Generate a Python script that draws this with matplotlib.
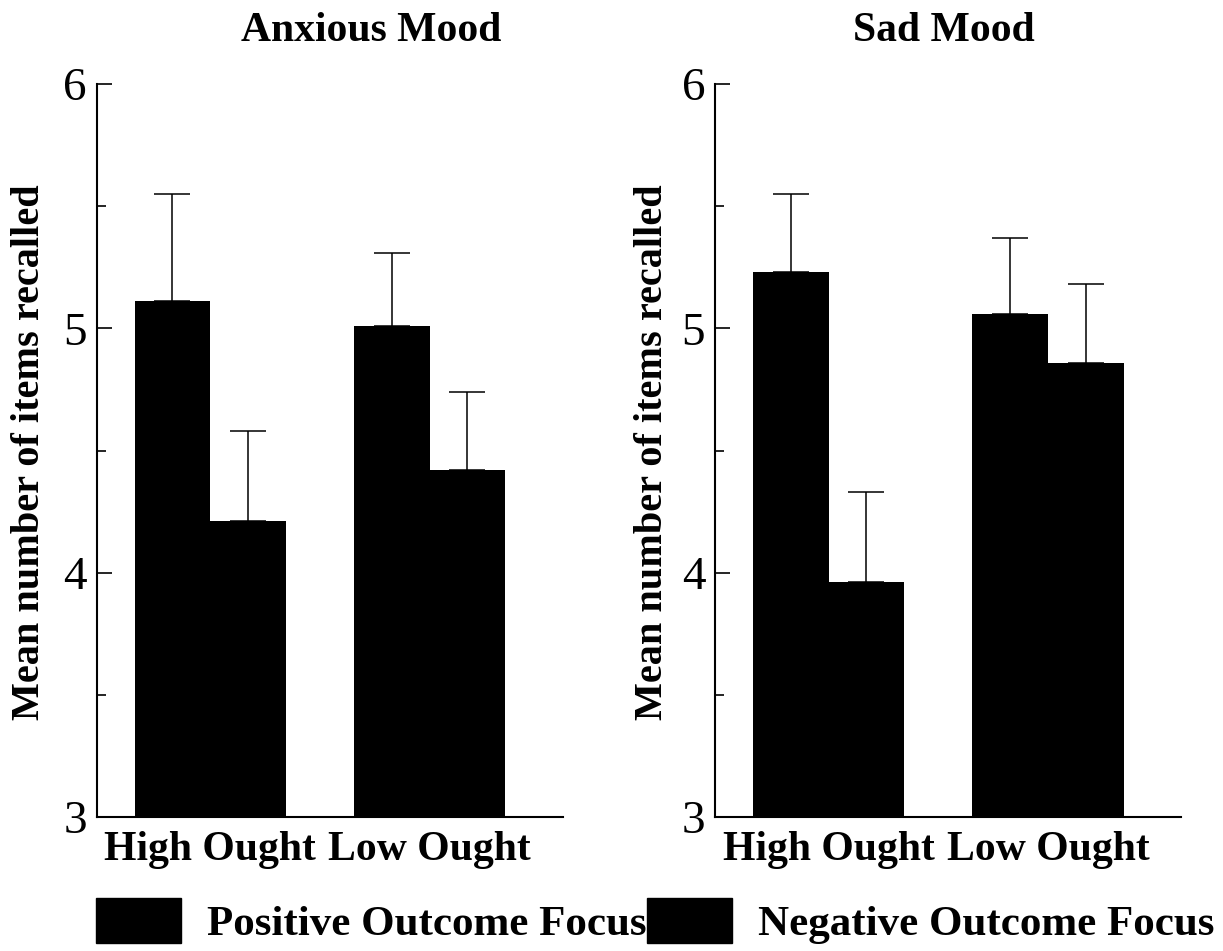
import matplotlib
matplotlib.use("Agg")
import matplotlib.pyplot as plt
import matplotlib.patches as mpatches
import numpy as np

# ---- data ----
groups = ["High Ought", "Low Ought"]
series = ["Positive Outcome Focus", "Negative Outcome Focus"]
panel_titles = ["Anxious Mood", "Sad Mood"]

anxious_pos = [5.11, 5.01]
anxious_neg = [4.21, 4.42]
anxious_pos_err = [0.44, 0.30]
anxious_neg_err = [0.37, 0.32]

sad_pos = [5.23, 5.06]
sad_neg = [3.96, 4.86]
sad_pos_err = [0.32, 0.31]
sad_neg_err = [0.37, 0.32]

y_ticks = [3, 4, 5, 6]
y_minor = [3.5, 4.5, 5.5]
y_label = "Mean number of items recalled"

SERIF = "Liberation Serif"
W, H = 1223, 951
fig = plt.figure(figsize=(W / 100, H / 100), dpi=100)

panels = [
    (anxious_pos, anxious_neg, anxious_pos_err, anxious_neg_err, 96.7),
    (sad_pos, sad_neg, sad_pos_err, sad_neg_err, 715.0),
]

bw = 0.345
x = np.arange(len(groups))
for (pos, neg, perr, nerr, left_px) in panels:
    ax = fig.add_axes([left_px / W, 1 - 817 / H, 466 / W, 733 / H])
    for vals, errs, off in ((pos, perr, -bw / 2), (neg, nerr, bw / 2)):
        ax.bar(x + off, vals, width=bw, color="black", edgecolor="black",
               linewidth=0, zorder=2)
        ax.errorbar(x + off, vals, yerr=[np.zeros(len(vals)), errs],
                    fmt="none", ecolor="black", elinewidth=1.1,
                    capsize=13, capthick=1.1, zorder=3)
    ax.set_ylim(3, 6)
    ax.set_xlim(-0.518, 1.607)
    ax.set_yticks(y_ticks)
    ax.set_yticks(y_minor, minor=True)
    ax.set_yticklabels([str(t) for t in y_ticks], fontfamily=SERIF, fontsize=34)
    ax.tick_params(axis="y", which="major", direction="in", length=11,
                   width=1.2, pad=7)
    ax.tick_params(axis="y", which="minor", direction="in", length=6.5,
                   width=1.2)
    ax.set_xticks(x)
    ax.set_xticklabels(groups, fontfamily=SERIF, fontweight="bold", fontsize=30)
    ax.tick_params(axis="x", length=0, pad=10)
    for s in ("top", "right"):
        ax.spines[s].set_visible(False)
    for s in ("left", "bottom"):
        ax.spines[s].set_linewidth(1.5)
    ax.set_facecolor("white")

# titles
fig.text(371 / W, 1 - 31 / H, panel_titles[0], ha="center", va="center",
         fontfamily=SERIF, fontweight="bold", fontsize=30)
fig.text(944 / W, 1 - 31 / H, panel_titles[1], ha="center", va="center",
         fontfamily=SERIF, fontweight="bold", fontsize=30)

# y labels
for xc in (30, 652):
    fig.text(xc / W, 1 - 452 / H, y_label, rotation=90, ha="center",
             va="center", fontfamily=SERIF, fontweight="bold", fontsize=29)

# legend
handles = [mpatches.Patch(facecolor="black", edgecolor="black", label=s)
           for s in series]
fig.legend(handles=handles, loc="center left",
           bbox_to_anchor=(96 / W, 1 - 921 / H), ncol=2, frameon=False,
           prop={"family": SERIF, "weight": "bold", "size": 31},
           handlelength=1.98, handleheight=1.23, handletextpad=0.6,
           columnspacing=0.0, borderpad=0, borderaxespad=0)

fig.savefig("out.png", dpi=100, facecolor="white")
